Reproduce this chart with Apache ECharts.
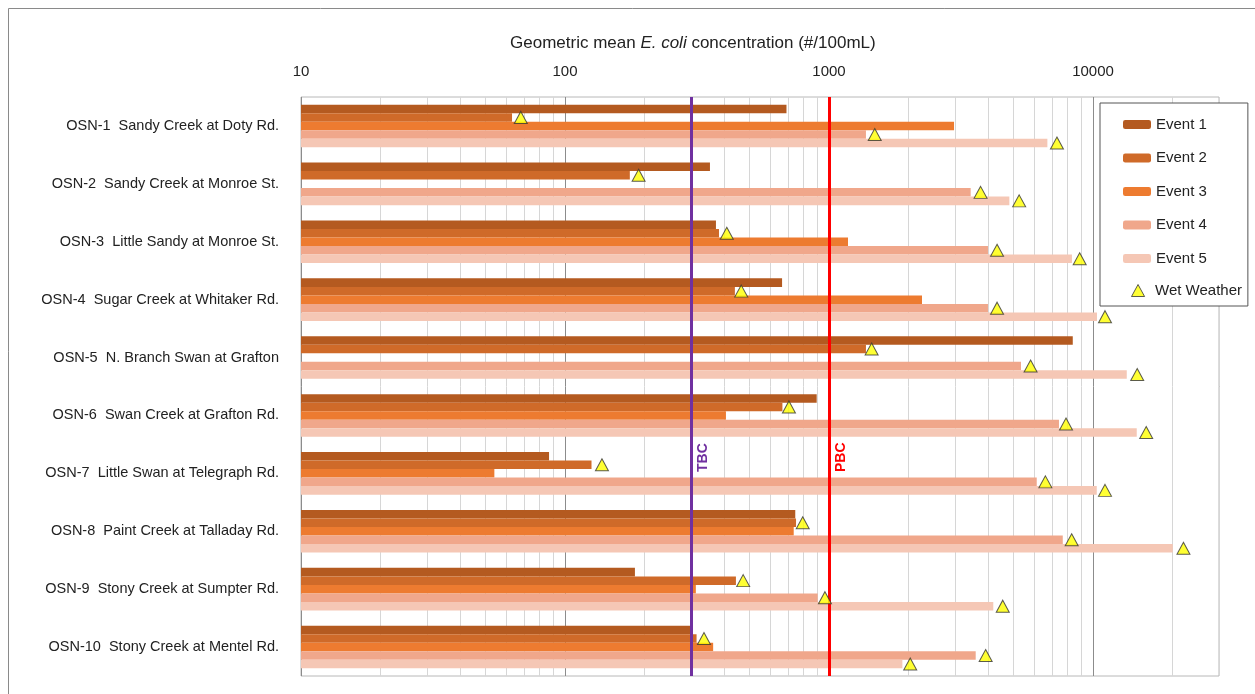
<!DOCTYPE html>
<html>
<head>
<meta charset="utf-8">
<script src="https://cdn.jsdelivr.net/npm/echarts@6/dist/echarts.min.js"></script>
<style>
  html, body { margin: 0; padding: 0; background: #fff; }
  #chart { width: 1255px; height: 694px; }
</style>
</head>
<body>
<div id="chart"></div>
<script>
// stations, top to bottom
const stations = [
  'OSN-1  Sandy Creek at Doty Rd.',
  'OSN-2  Sandy Creek at Monroe St.',
  'OSN-3  Little Sandy at Monroe St.',
  'OSN-4  Sugar Creek at Whitaker Rd.',
  'OSN-5  N. Branch Swan at Grafton',
  'OSN-6  Swan Creek at Grafton Rd.',
  'OSN-7  Little Swan at Telegraph Rd.',
  'OSN-8  Paint Creek at Talladay Rd.',
  'OSN-9  Stony Creek at Sumpter Rd.',
  'OSN-10  Stony Creek at Mentel Rd.'
];

// geometric mean E. coli (#/100mL) per event
const event1 = [690, 354, 373, 664, 8380, 898, 87, 745, 184, 302];
const event2 = [63, 176, 383, 440, 1380, 666, 126, 750, 444, 315];
const event3 = [2975, null, 1180, 2250, null, 407, 54, 735, 313, 364];
const event4 = [1380, 3440, 4000, 4000, 5335, 7430, 6120, 7680, 906, 3594];
const event5 = [6715, 4820, 8320, 10350, 13420, 14640, 10330, 20040, 4190, 1896];

// wet weather markers (event 2, 4 and 5 were wet weather events)
const wetEvent2 = [68, 190, 410, 465, 1450, 705, 138, 795, 473, 336];
const wetEvent4 = [1490, 3750, 4330, 4330, 5800, 7900, 6600, 8300, 965, 3920];
const wetEvent5 = [7300, 5250, 8900, 11100, 14700, 15900, 11100, 22000, 4550, 2030];

const TBC = 300;
const PBC = 1000;

const eventNames = ['Event 1', 'Event 2', 'Event 3', 'Event 4', 'Event 5'];
const eventColors = ['#b45a20', '#cf6a29', '#ed7b30', '#f0a78b', '#f5c7b5'];
const eventData = [event1, event2, event3, event4, event5];

const catGap = 0.265;
const barW = (1 - catGap) / 5;

// minor log grid lines
let minorLines = [];
[10, 100, 1000, 10000].forEach(function (d) {
  for (let k = 2; k <= 9; k++) {
    if (k * d <= 30000) minorLines.push({ xAxis: k * d });
  }
});

let wetPoints = [];
[[1, wetEvent2], [3, wetEvent4], [4, wetEvent5]].forEach(function (p) {
  p[1].forEach(function (v, i) {
    wetPoints.push([v, i + (p[0] - 2) * barW]);
  });
});

const font = 'Arial, "Liberation Sans", sans-serif';

let series = eventData.map(function (d, j) {
  return {
    name: eventNames[j],
    type: 'bar',
    data: d,
    barGap: 0,
    barCategoryGap: (catGap * 100) + '%',
    itemStyle: { color: eventColors[j] },
    z: 2
  };
});

series.push({
  name: 'grid',
  type: 'line',
  data: [],
  z: 0,
  silent: true,
  markLine: {
    z: 0,
    silent: true,
    symbol: 'none',
    label: { show: false },
    lineStyle: { color: '#d6d6d6', width: 1, type: 'solid' },
    data: minorLines
  }
});

// threshold lines, drawn bottom to top so the labels read upward
function limitLine(name, value, color) {
  return {
    name: name,
    type: 'line',
    yAxisIndex: 1,
    data: [],
    z: 4,
    silent: true,
    markLine: {
      z: 4,
      silent: true,
      symbol: 'none',
      lineStyle: { color: color, width: 3, type: 'solid' },
      label: {
        show: true,
        formatter: name,
        color: color,
        position: 'insideStartBottom',
        distance: [204, 5],
        fontWeight: 'bold',
        fontSize: 14,
        fontFamily: font
      },
      data: [[{ coord: [value, 9.5] }, { coord: [value, -0.5] }]]
    }
  };
}
series.push(limitLine('TBC', TBC, '#7030a0'));
series.push(limitLine('PBC', PBC, '#ff0000'));

series.push({
  name: 'Wet Weather',
  type: 'scatter',
  yAxisIndex: 1,
  symbol: 'triangle',
  symbolSize: [13, 12],
  itemStyle: { color: '#ffff00', borderColor: '#333', borderWidth: 1 },
  data: wetPoints,
  z: 5
});

const legendText = { fontSize: 15, color: '#222', fontFamily: font };

const chart = echarts.init(document.getElementById('chart'));
chart.setOption({
  backgroundColor: '#fff',
  animation: false,
  title: {
    text: '{a|Geometric mean }{b|E. coli}{a| concentration (#/100mL)}',
    left: 505,
    top: 30,
    textStyle: {
      rich: {
        a: { fontSize: 17, color: '#222', fontWeight: 'normal', fontFamily: font },
        b: { fontSize: 17, color: '#222', fontWeight: 'normal', fontStyle: 'italic', fontFamily: font }
      }
    }
  },
  graphic: [{
    type: 'rect',
    shape: { x: 8.5, y: 8.5, width: 1270, height: 720 },
    style: { fill: 'none', stroke: '#8a8a8a', lineWidth: 1 },
    silent: true
  }],
  legend: [
    {
      orient: 'vertical',
      left: 1100,
      top: 103,
      padding: [14, 41, 40, 23],
      itemWidth: 28,
      itemHeight: 9,
      itemGap: 18.5,
      backgroundColor: '#fff',
      borderColor: '#555',
      borderWidth: 1,
      textStyle: legendText,
      data: eventNames
    },
    {
      orient: 'vertical',
      left: 1131,
      top: 283,
      padding: 0,
      itemWidth: 24,
      itemHeight: 12,
      textStyle: legendText,
      data: [{
        name: 'Wet Weather',
        icon: 'path://M6,0L12,11L0,11Z',
        itemStyle: { color: '#ffff00', borderColor: '#333', borderWidth: 1 }
      }]
    }
  ],
  grid: {
    left: 301,
    right: 36,
    top: 97,
    bottom: 18,
    show: true,
    borderColor: '#b8b8b8',
    borderWidth: 1
  },
  xAxis: {
    type: 'log',
    position: 'top',
    min: 10,
    max: 30000,
    logBase: 10,
    axisLine: { show: false },
    axisTick: { show: false },
    axisLabel: {
      fontSize: 15,
      color: '#222',
      margin: 18,
      fontFamily: font,
      showMaxLabel: false,
      formatter: function (v) { return String(v); }
    },
    splitLine: { show: true, lineStyle: { color: '#8c8c8c', width: 1 } }
  },
  yAxis: [
    {
      type: 'category',
      inverse: true,
      data: stations,
      axisLine: { show: false },
      axisTick: { show: false },
      axisLabel: { fontSize: 14.5, color: '#222', margin: 22, fontFamily: font },
      splitLine: { show: false }
    },
    {
      type: 'value',
      inverse: true,
      min: -0.5,
      max: 9.5,
      show: false
    }
  ],
  series: series
});
</script>
</body>
</html>
